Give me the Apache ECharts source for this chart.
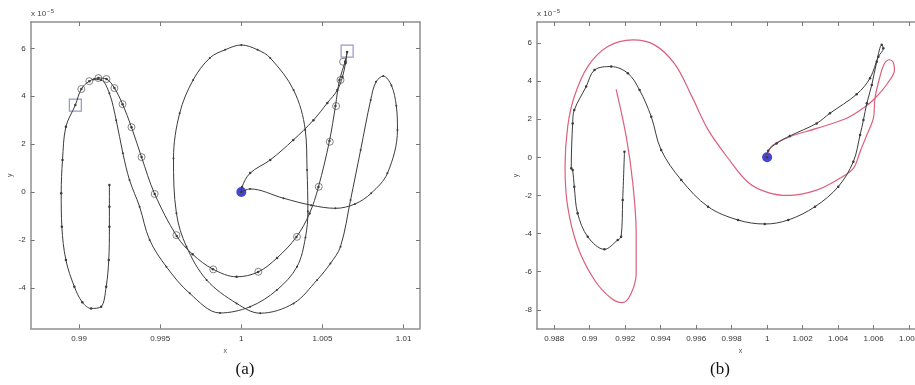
<!DOCTYPE html>
<html>
<head>
<meta charset="utf-8">
<script src="https://cdn.jsdelivr.net/npm/echarts@6/dist/echarts.min.js"></script>
<style>
html, body { margin: 0; padding: 0; background: #fff; }
#main { width: 915px; height: 385px; }
</style>
</head>
<body>
<div id="main"></div>
<script>
// y values are in units of 1e-5 (the "x 10^-5" factor on the axes)

// panel (a) ticks
var aXTicks = [0.99, 0.995, 1, 1.005, 1.01];
var aYTicks = [-4, -2, 0, 2, 4, 6];
// panel (b) ticks
var bXTicks = [0.988, 0.99, 0.992, 0.994, 0.996, 0.998, 1, 1.002, 1.004, 1.006, 1.008, 1.01];
var bYTicks = [-8, -6, -4, -2, 0, 2, 4, 6];

// (a) transfer with nodes: earth -> upper right -> swing down -> L1 loop
var aTransfer = [
  [1.0, 0], [1.00004, 0.21], [1.00054, 0.79], [1.00178, 1.34], [1.0032, 2.17],
  [1.00444, 3.0], [1.0053, 3.72], [1.00592, 4.26], [1.00623, 4.8], [1.00642, 5.39],
  [1.00652, 5.85], [1.0064, 5.45], [1.00605, 4.68], [1.0058, 3.59], [1.00543, 2.13],
  [1.00475, 0.21], [1.0042, -0.9], [1.00339, -1.88], [1.0022, -2.75], [1.00103, -3.34],
  [0.99971, -3.54], [0.99825, -3.22], [0.997, -2.6], [0.99602, -1.84], [0.99466, -0.08],
  [0.99385, 1.46], [0.99323, 2.71], [0.99268, 3.67], [0.99218, 4.34], [0.99169, 4.72],
  [0.99119, 4.76], [0.99063, 4.63], [0.99014, 4.3], [0.98977, 3.63], [0.98919, 2.73],
  [0.98898, 1.34], [0.9889, -0.05], [0.98894, -1.45], [0.98919, -2.84], [0.98971, -3.95],
  [0.9902, -4.6], [0.99074, -4.86], [0.99136, -4.79], [0.99167, -3.95], [0.99183, -2.84],
  [0.99187, -1.45], [0.99187, -0.61], [0.99187, 0.29]
];
// (a) long trajectory: earth -> right loop -> big loop -> back to the L1 peak
var aOrbit = [
  [1.0, 0], [1.00054, 0.13], [1.0026, -0.26], [1.0043, -0.55], [1.0058, -0.68],
  [1.007, -0.5], [1.008, -0.05], [1.009, 0.78], [1.00962, 2.59], [1.00955, 3.6],
  [1.00925, 4.45], [1.00875, 4.84], [1.0083, 4.6], [1.00797, 3.84], [1.00735, 1.75],
  [1.00673, -0.33], [1.00611, -2.28], [1.00549, -2.98], [1.00467, -3.67], [1.00322, -4.65],
  [1.00116, -5.06], [0.99971, -4.65], [0.99786, -3.67], [0.99662, -2.28], [0.996, -0.89],
  [0.99582, 1.4], [0.9962, 3.29], [0.99703, 4.68], [0.99806, 5.6], [0.999, 5.94],
  [1.0, 6.14], [1.001, 5.94], [1.00178, 5.6], [1.00322, 4.26], [1.00394, 2.59],
  [1.00405, 0.92], [1.0041, -0.8], [1.00395, -1.9], [1.00343, -3.12], [1.00219, -4.09],
  [1.00054, -4.79], [0.99868, -5.05], [0.99682, -4.23], [0.99538, -3.12], [0.99435, -2.0],
  [0.99373, -0.61], [0.99311, 0.5], [0.9927, 1.62], [0.99229, 3.0], [0.99187, 4.12],
  [0.99136, 4.68], [0.9909, 4.7]
];
var aNodes = [
  [1.00627, 5.44], [1.00611, 4.68], [1.00584, 3.59], [1.00545, 2.1], [1.00477, 0.22],
  [1.00343, -1.87], [1.00105, -3.33], [0.99827, -3.23], [0.996, -1.8], [0.99466, -0.08],
  [0.99385, 1.46], [0.99323, 2.71], [0.99268, 3.67], [0.99218, 4.34], [0.99169, 4.72],
  [0.99119, 4.76], [0.99063, 4.63], [0.99014, 4.3]
];
var aSquares = [[0.98977, 3.63], [1.00652, 5.88]];
var aEarth = [[1, 0]];

// (b) red trajectory
var bRed = [
  [1.0, 0], [1.00006, 0.29], [1.00034, 0.65], [1.00128, 1.08], [1.00279, 1.52],
  [1.00449, 2.05], [1.00545, 2.6], [1.00608, 3.1], [1.0068, 3.9], [1.00718, 4.6],
  [1.0071, 5.0], [1.0069, 5.12], [1.0066, 4.9], [1.00635, 4.2], [1.00608, 3.1],
  [1.00599, 2.05], [1.00562, 1.17], [1.00524, 0.29], [1.00486, -0.58], [1.0041, -1.1],
  [1.00279, -1.72], [1.00119, -2.0], [1.00006, -1.85], [0.99897, -1.35], [0.9978, -0.05],
  [0.99667, 1.45], [0.99573, 3.25], [0.99479, 4.9], [0.99365, 5.9], [0.99243, 6.16],
  [0.99102, 5.81], [0.98989, 4.76], [0.98913, 3.18], [0.98876, 1.61], [0.98861, -0.49],
  [0.98876, -2.59], [0.98932, -4.69], [0.99027, -6.44], [0.99121, -7.4], [0.99186, -7.63],
  [0.99234, -7.14], [0.99262, -6.09], [0.99262, -3.99], [0.99243, -1.36], [0.99206, 1.08],
  [0.99149, 3.57]
];
// (b) black trajectory
var bBlack = [
  [1.0, 0], [1.00006, 0.35], [1.00053, 0.73], [1.00128, 1.12], [1.00279, 1.78],
  [1.00354, 2.31], [1.00505, 3.31], [1.0058, 4.15], [1.00627, 5.28], [1.00655, 5.72],
  [1.00646, 5.9], [1.00618, 5.02], [1.0059, 3.8], [1.00562, 2.83], [1.00543, 1.96],
  [1.00524, 1.17], [1.00486, -0.23], [1.00401, -1.54], [1.0027, -2.59], [1.00119, -3.29],
  [0.99987, -3.5], [0.99836, -3.29], [0.99667, -2.59], [0.99516, -1.19], [0.99403, 0.38],
  [0.99347, 2.13], [0.99281, 3.53], [0.99215, 4.41], [0.99121, 4.76], [0.99027, 4.58],
  [0.9898, 3.71], [0.98913, 2.48], [0.98904, 1.78], [0.98896, -0.58], [0.98904, -0.67],
  [0.98913, -1.54], [0.98932, -2.94], [0.98989, -4.17], [0.99083, -4.83], [0.99158, -4.34],
  [0.99177, -4.17], [0.99186, -2.24], [0.99196, 0.29]
];
var bEarth = [[1, 0]];

var myChart = echarts.init(document.getElementById('main'));

var boxLine = { show: true, onZero: false, lineStyle: { color: '#8f8f8f', width: 1.5 } };
var tickFont = { fontSize: 8, color: '#333', fontFamily: 'Liberation Sans' };
function fmt(v) { return String(+(+v).toFixed(4)); }

function xAx(grid, min, max, ticks, pos) {
  var bottom = pos === 'bottom';
  return {
    gridIndex: grid, type: 'value', position: pos, min: min, max: max,
    axisLine: boxLine,
    axisTick: { show: true, inside: true, length: 4, customValues: ticks, lineStyle: { color: '#777' } },
    axisLabel: bottom ? Object.assign({ show: true, margin: 6, customValues: ticks, formatter: fmt }, tickFont) : { show: false },
    splitLine: { show: false },
    name: bottom ? 'x' : '', nameLocation: 'middle', nameGap: 19,
    nameTextStyle: { fontSize: 7, color: '#555', fontFamily: 'Liberation Sans' }
  };
}
function yAx(grid, min, max, ticks, pos) {
  var left = pos === 'left';
  return {
    gridIndex: grid, type: 'value', position: pos, min: min, max: max,
    axisLine: boxLine,
    axisTick: { show: true, inside: true, length: 4, customValues: ticks, lineStyle: { color: '#777' } },
    axisLabel: left ? Object.assign({ show: true, margin: 5, customValues: ticks, formatter: fmt }, tickFont) : { show: false },
    splitLine: { show: false },
    name: left ? 'y' : '', nameLocation: 'middle', nameGap: 17,
    nameTextStyle: { fontSize: 7, color: '#555', fontFamily: 'Liberation Sans' }
  };
}

var grayLine = function (xi, data, sym) {
  return {
    type: 'line', xAxisIndex: xi, yAxisIndex: xi, data: data, smooth: 0.35,
    symbol: 'circle', symbolSize: sym, showSymbol: sym > 0, showAllSymbol: true,
    lineStyle: { color: '#3c3c3c', width: 1 }, itemStyle: { color: '#3c3c3c' }
  };
};

option = {
  animation: false,
  backgroundColor: '#fff',
  grid: [
    { left: 30.7, right: 495, top: 22, bottom: 56.7, outerBoundsMode: 'none', containLabel: false },
    { left: 537, right: -29, top: 22, bottom: 56, outerBoundsMode: 'none', containLabel: false }
  ],
  xAxis: [
    xAx(0, 0.98702, 1.01101, aXTicks, 'bottom'),
    xAx(0, 0.98702, 1.01101, aXTicks, 'top'),
    xAx(1, 0.98703, 1.00997, bXTicks, 'bottom'),
    xAx(1, 0.98703, 1.00997, bXTicks, 'top')
  ],
  yAxis: [
    yAx(0, -5.69, 7.1, aYTicks, 'left'),
    yAx(0, -5.69, 7.1, aYTicks, 'right'),
    yAx(1, -9.01, 7.1, bYTicks, 'left'),
    yAx(1, -9.01, 7.1, bYTicks, 'right')
  ],
  graphic: [
    { type: 'text', left: 31, top: 8, style: { text: '{a|x 10}{b|−5}', rich: {
      a: { fontSize: 8, fill: '#444', fontFamily: 'Liberation Sans' },
      b: { fontSize: 6, fill: '#444', fontFamily: 'Liberation Sans', verticalAlign: 'top', padding: [0, 0, 6, 1] } } } },
    { type: 'text', left: 537, top: 8, style: { text: '{a|x 10}{b|−5}', rich: {
      a: { fontSize: 8, fill: '#444', fontFamily: 'Liberation Sans' },
      b: { fontSize: 6, fill: '#444', fontFamily: 'Liberation Sans', verticalAlign: 'top', padding: [0, 0, 6, 1] } } } },
    { type: 'text', x: 245, y: 370, style: { text: '(a)', fontSize: 17, fill: '#111', fontFamily: 'Liberation Serif', align: 'center', verticalAlign: 'middle' } },
    { type: 'text', x: 720, y: 370, style: { text: '(b)', fontSize: 17, fill: '#111', fontFamily: 'Liberation Serif', align: 'center', verticalAlign: 'middle' } }
  ],
  series: [
    grayLine(0, aOrbit, 2),
    grayLine(0, aTransfer, 2.5),
    {
      type: 'scatter', xAxisIndex: 0, yAxisIndex: 0, data: aNodes, symbol: 'circle', symbolSize: 7,
      itemStyle: { color: '#fff', borderColor: '#555', borderWidth: 0.9 }
    },
    {
      type: 'scatter', xAxisIndex: 0, yAxisIndex: 0, data: aSquares, symbol: 'rect', symbolSize: 12,
      itemStyle: { color: 'rgba(0,0,0,0)', borderColor: '#7d7db2', borderWidth: 1.2 }
    },
    {
      type: 'scatter', xAxisIndex: 0, yAxisIndex: 0, data: aEarth, symbol: 'circle', symbolSize: 10,
      itemStyle: { color: '#1717c4' }
    },
    {
      type: 'line', xAxisIndex: 2, yAxisIndex: 2, data: bRed, smooth: 0.35, showSymbol: false,
      lineStyle: { color: '#dc5f7d', width: 1.2 }
    },
    grayLine(2, bBlack, 2.5),
    {
      type: 'scatter', xAxisIndex: 2, yAxisIndex: 2, data: bEarth, symbol: 'circle', symbolSize: 10,
      itemStyle: { color: '#1717c4' }
    }
  ]
};

myChart.setOption(option);
window.addEventListener('resize', function () {
  myChart.resize();
});
</script>
</body>
</html>
